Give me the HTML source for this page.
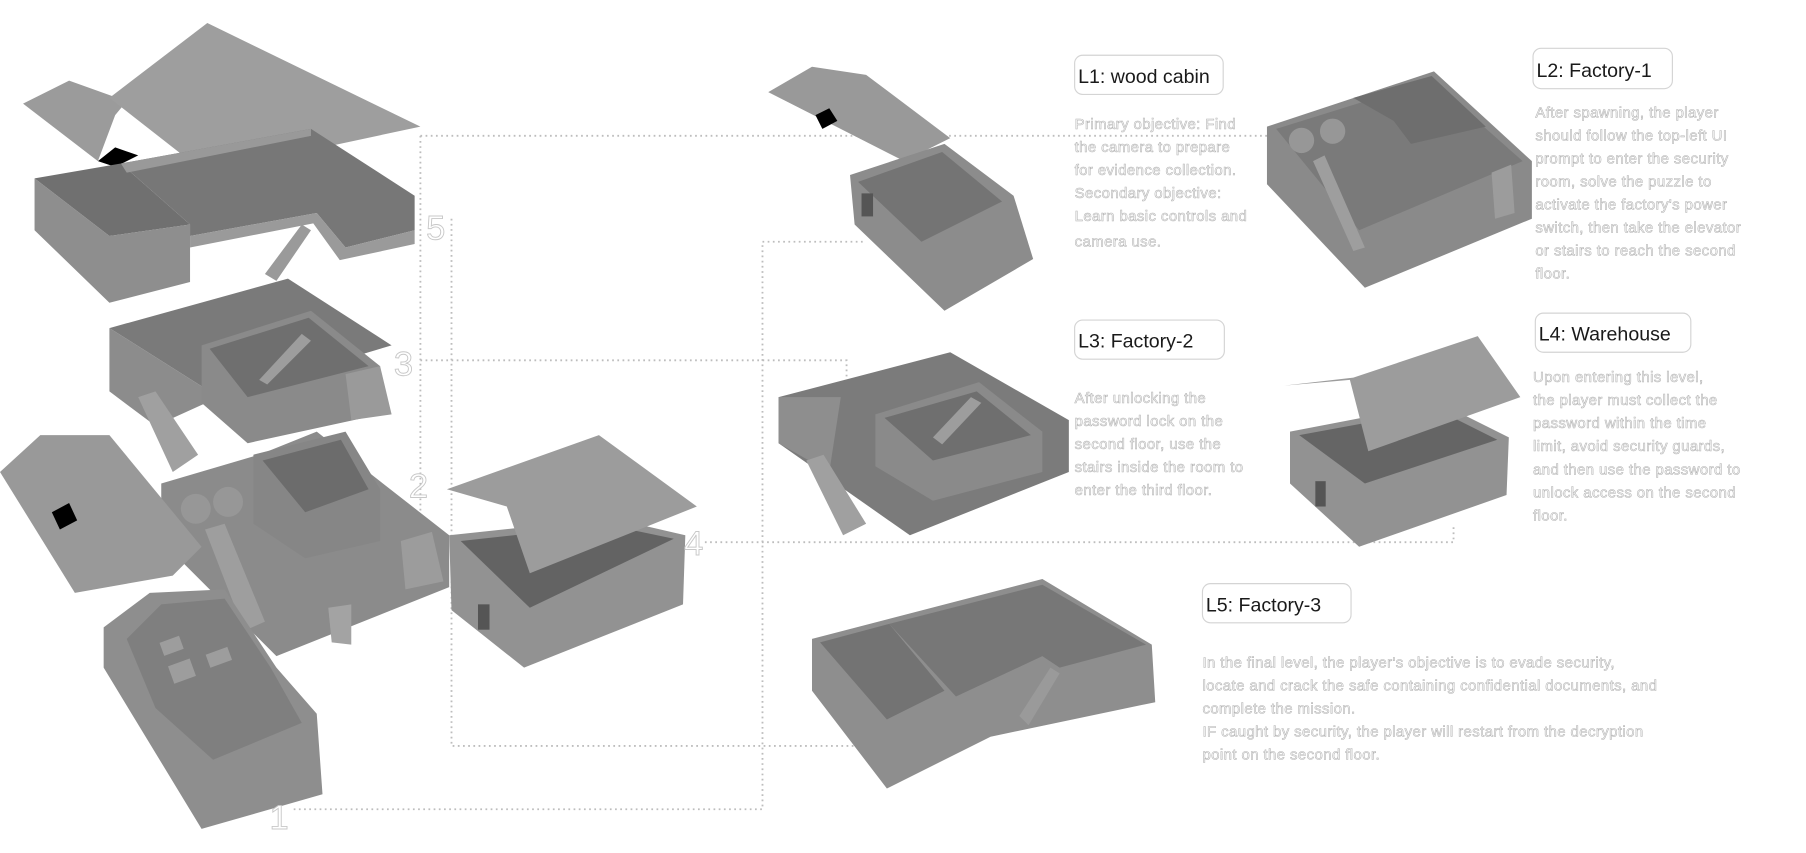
<!DOCTYPE html>
<html><head><meta charset="utf-8"><style>
html,body{margin:0;padding:0;background:#fff;}
svg{display:block;}
.t{font-family:"Liberation Sans",sans-serif;font-size:13px;letter-spacing:0.35px;fill:#fafafa;stroke:#b4b4b4;stroke-width:0.5px;}
.h{font-family:"Liberation Sans",sans-serif;font-size:17px;fill:#1a1a1a;}
.n{font-family:"Liberation Sans",sans-serif;font-size:30px;fill:#fff;stroke:#c8c8c8;stroke-width:0.8px;font-weight:300;}
.d{stroke:#bdbdbd;stroke-width:1.6;stroke-dasharray:1.5 3;fill:none;}
.box{fill:#fff;stroke:#d4d4d4;stroke-width:1;}
</style></head><body>
<svg width="1806" height="853" viewBox="0 0 1568 741" preserveAspectRatio="none" xmlns="http://www.w3.org/2000/svg">
<path class="d" d="M365 118 H1100 M365 118 V470"/>
<path class="d" d="M392 190 V648 H745"/>
<path class="d" d="M365 313 H735 V375"/>
<path class="d" d="M612 471 H1262 V455"/>
<path class="d" d="M255 703 H662 V210 H750"/>

<polygon points="20,90 60,70 110,88 100,100 85,140" fill="#9b9b9b"/>
<polygon points="95,85 180,20 365,110 178,150" fill="#9e9e9e"/>
<polygon points="85,140 100,128 120,135 100,145" fill="#000"/>
<polygon points="30,155 105,142 165,195 95,205" fill="#707070"/>
<polygon points="30,155 30,200 95,263 165,245 165,195 95,205" fill="#8e8e8e"/>
<polygon points="105,142 270,112 360,170 360,200 300,215 275,185 165,205 165,195" fill="#777"/>
<polygon points="105,142 270,112 270,118 110,150" fill="#999"/>
<polygon points="165,205 275,185 300,215 360,200 360,212 295,226 272,194 165,215" fill="#9a9a9a"/>
<polygon points="230,238 262,195 270,200 240,244" fill="#9a9a9a"/>
<polygon points="95,285 250,242 340,300 190,345" fill="#7a7a7a"/>
<polygon points="95,285 95,340 135,370 190,345" fill="#8c8c8c"/>
<polygon points="175,300 270,270 330,318 330,360 215,385 175,350" fill="#8a8a8a"/>
<polygon points="182,303 268,276 320,318 215,345" fill="#6f6f6f"/>
<polygon points="225,330 262,290 270,296 232,334" fill="#9d9d9d"/>
<polygon points="300,325 330,318 340,360 305,365" fill="#9a9a9a"/>
<polygon points="120,345 135,340 172,395 150,410" fill="#a0a0a0"/>
<polygon points="140,420 225,395 275,375 390,465 390,510 240,570 140,470" fill="#8b8b8b"/>
<polygon points="220,395 300,375 330,425 330,470 265,485 220,455" fill="#868686"/>
<polygon points="228,400 296,382 320,425 265,445" fill="#6c6c6c"/>
<circle cx="170" cy="442" r="13" fill="#979797"/>
<circle cx="198" cy="436" r="13" fill="#979797"/>
<polygon points="178,460 195,455 230,540 212,548" fill="#9e9e9e"/>
<polygon points="348,470 375,462 385,505 352,512" fill="#9c9c9c"/>
<polygon points="285,528 305,525 305,560 288,558" fill="#a3a3a3"/>
<polygon points="0,410 35,378 95,378 175,475 150,500 65,515" fill="#999"/>
<polygon points="45,445 60,437 67,452 52,460" fill="#000"/>
<polygon points="90,545 130,515 195,512 240,580 275,620 280,690 175,720 90,580" fill="#8e8e8e"/>
<polygon points="110,555 140,525 195,520 235,580 262,628 185,660 135,615" fill="#7f7f7f"/>
<rect x="140" y="555" width="18" height="12" fill="#9d9d9d" transform="rotate(-20 149 561)"/>
<rect x="180" y="565" width="20" height="12" fill="#9d9d9d" transform="rotate(-20 190 571)"/>
<rect x="148" y="575" width="20" height="16" fill="#9d9d9d" transform="rotate(-20 158 583)"/>
<polygon points="390,465 530,450 595,465 593,525 455,580 392,530" fill="#929292"/>
<polygon points="400,470 528,456 585,468 460,528" fill="#636363"/>
<polygon points="388,425 520,378 605,440 460,498 440,440" fill="#9c9c9c"/>
<rect x="415" y="525" width="10" height="22" fill="#555"/>
<text class="n" x="370" y="208">5</text>
<text class="n" x="342" y="326">3</text>
<text class="n" x="355" y="432">2</text>
<text class="n" x="594" y="482">4</text>
<text class="n" x="234" y="720">1</text>

<polygon points="667,80 705,58 752,65 825,120 785,140" fill="#999"/>
<polygon points="708,100 720,94 727,105 714,112" fill="#000"/>
<polygon points="738,152 820,125 880,170 897,225 820,270 742,195" fill="#8c8c8c"/>
<polygon points="745,158 818,132 870,175 800,210" fill="#747474"/>
<rect x="748" y="168" width="10" height="20" fill="#555"/>
<polygon points="1100,110 1245,62 1330,140 1330,190 1185,250 1100,160" fill="#8a8a8a"/>
<polygon points="1108,112 1243,70 1322,140 1180,200" fill="#7a7a7a"/>
<polygon points="1175,85 1243,66 1290,110 1225,125 1210,105" fill="#6e6e6e"/>
<circle cx="1130" cy="122" r="11" fill="#979797"/>
<circle cx="1157" cy="114" r="11" fill="#979797"/>
<polygon points="1140,140 1150,135 1185,215 1175,218" fill="#9e9e9e"/>
<polygon points="1295,150 1312,143 1315,185 1298,190" fill="#9c9c9c"/>
<polygon points="676,345 825,306 928,365 928,410 790,465 676,385" fill="#7b7b7b"/>
<polygon points="676,345 676,385 720,410 730,345" fill="#8e8e8e"/>
<polygon points="760,360 850,332 905,375 905,410 810,435 760,405" fill="#8a8a8a"/>
<polygon points="768,363 848,340 895,378 810,400" fill="#6f6f6f"/>
<polygon points="810,380 843,345 852,350 818,386" fill="#9d9d9d"/>
<polygon points="700,400 715,395 752,455 732,465" fill="#a0a0a0"/>
<polygon points="1120,375 1250,350 1310,380 1308,430 1180,475 1120,420" fill="#929292"/>
<polygon points="1128,378 1248,356 1300,382 1185,420" fill="#656565"/>
<polygon points="1115,335 1175,328 1283,292 1320,345 1188,392 1172,330" fill="#9c9c9c"/>
<rect x="1142" y="418" width="9" height="22" fill="#555"/>
<polygon points="705,555 905,503 1000,560 1003,610 860,640 770,685 705,600" fill="#8e8e8e"/>
<polygon points="712,558 772,542 820,600 770,625" fill="#737373"/>
<polygon points="772,542 905,508 995,560 920,580 905,570 830,605" fill="#777"/>
<polygon points="885,622 912,580 920,585 893,630" fill="#9a9a9a"/>

<rect class="box" x="933" y="48" width="129" height="34" rx="7"/>
<text class="h" x="936" y="72">L1: wood cabin</text>
<text class="t" x="933" y="112">Primary objective: Find</text>
<text class="t" x="933" y="132">the camera to prepare</text>
<text class="t" x="933" y="152">for evidence collection.</text>
<text class="t" x="933" y="172">Secondary objective:</text>
<text class="t" x="933" y="192">Learn basic controls and</text>
<text class="t" x="933" y="214">camera use.</text>

<rect class="box" x="1331" y="42" width="121" height="35" rx="7"/>
<text class="h" x="1334" y="67">L2: Factory-1</text>
<text class="t" x="1333" y="102">After spawning, the player</text>
<text class="t" x="1333" y="122">should follow the top-left UI</text>
<text class="t" x="1333" y="142">prompt to enter the security</text>
<text class="t" x="1333" y="162">room, solve the puzzle to</text>
<text class="t" x="1333" y="182">activate the factory's power</text>
<text class="t" x="1333" y="202">switch, then take the elevator</text>
<text class="t" x="1333" y="222">or stairs to reach the second</text>
<text class="t" x="1333" y="242">floor.</text>

<rect class="box" x="933" y="278" width="130" height="34" rx="7"/>
<text class="h" x="936" y="302">L3: Factory-2</text>
<text class="t" x="933" y="350">After unlocking the</text>
<text class="t" x="933" y="370">password lock on the</text>
<text class="t" x="933" y="390">second floor, use the</text>
<text class="t" x="933" y="410">stairs inside the room to</text>
<text class="t" x="933" y="430">enter the third floor.</text>

<rect class="box" x="1333" y="272" width="135" height="34" rx="7"/>
<text class="h" x="1336" y="296">L4: Warehouse</text>
<text class="t" x="1331" y="332">Upon entering this level,</text>
<text class="t" x="1331" y="352">the player must collect the</text>
<text class="t" x="1331" y="372">password within the time</text>
<text class="t" x="1331" y="392">limit, avoid security guards,</text>
<text class="t" x="1331" y="412">and then use the password to</text>
<text class="t" x="1331" y="432">unlock access on the second</text>
<text class="t" x="1331" y="452">floor.</text>

<rect class="box" x="1044" y="507" width="129" height="34" rx="7"/>
<text class="h" x="1047" y="531">L5: Factory-3</text>
<text class="t" x="1044" y="580">In the final level, the player's objective is to evade security,</text>
<text class="t" x="1044" y="600">locate and crack the safe containing confidential documents, and</text>
<text class="t" x="1044" y="620">complete the mission.</text>
<text class="t" x="1044" y="640">IF caught by security, the player will restart from the decryption</text>
<text class="t" x="1044" y="660">point on the second floor.</text>
</svg>
</body></html>
